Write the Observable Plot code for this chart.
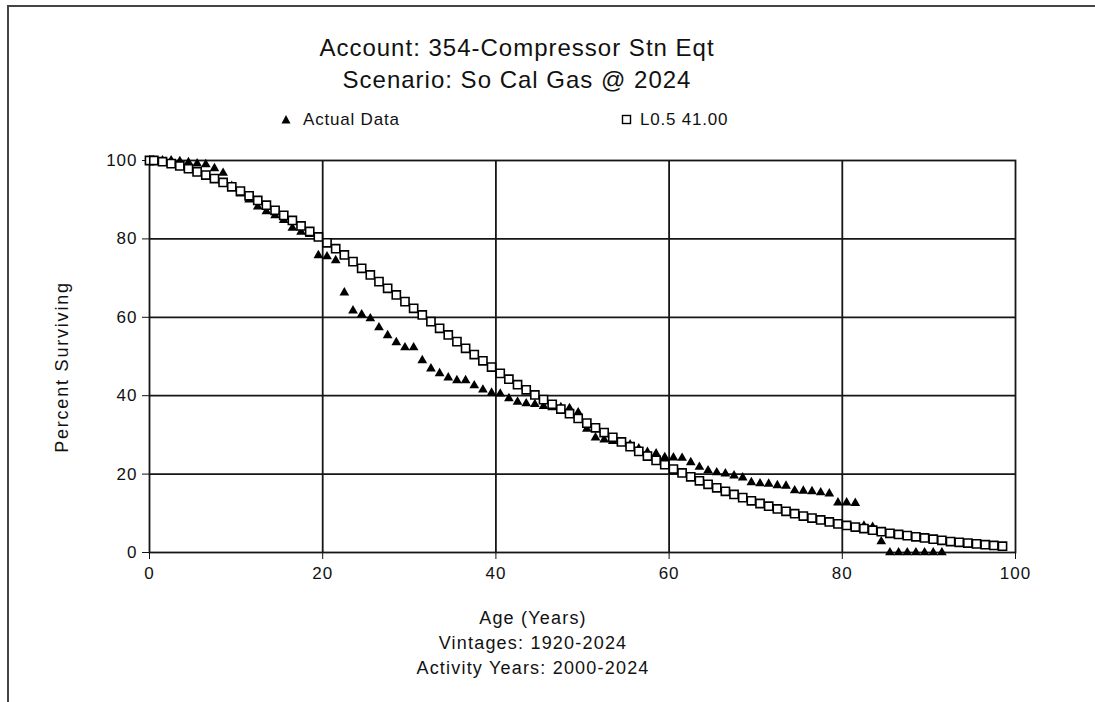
<!DOCTYPE html>
<html>
<head>
<meta charset="utf-8">
<script src="https://cdn.jsdelivr.net/npm/d3@7"></script>
<script src="https://cdn.jsdelivr.net/npm/@observablehq/plot@0.6"></script>
<style>
  html, body { margin: 0; padding: 0; background: #fff; }
  #page {
    position: relative; width: 1095px; height: 702px; overflow: hidden;
    font-family: "Liberation Sans", Arial, sans-serif; color: #111;
  }
  #border {
    position: absolute; left: 7px; top: 5px; right: -10px; bottom: -10px;
    border-top: 2px solid #444; border-left: 2px solid #444;
  }
  .txt { position: absolute; white-space: nowrap; transform: translateX(-50%); }
  .title { font-size: 24px; line-height: 24px; letter-spacing: 1px; }
  .lab { font-size: 18px; line-height: 18px; letter-spacing: 1.2px; }
  #ytitle {
    position: absolute; left: 62px; top: 367px; white-space: nowrap;
    font-size: 18px; line-height: 18px; letter-spacing: 1.8px;
    transform: translate(-50%, -50%) rotate(-90deg);
  }
  .legend { position: absolute; font-size: 17px; line-height: 17px; letter-spacing: 0.8px; white-space: nowrap; }
  .legend svg { position: absolute; left: 0; top: 0; }
  #chart { position: absolute; left: 0; top: 0; }
  #chart svg text { letter-spacing: 1px; }
</style>
</head>
<body>
<div id="page">
  <div id="border"></div>
  <div class="txt title" style="left:517px; top:36px;">Account: 354-Compressor Stn Eqt</div>
  <div class="txt title" style="left:517px; top:68px;">Scenario: So Cal Gas @ 2024</div>

  <div class="legend" style="left:280px; top:111px;">
    <svg width="14" height="17"><path d="M6,4 L10.5,12.5 L1.5,12.5 Z" fill="#000"/></svg>
    <span style="margin-left:23px;">Actual Data</span>
  </div>
  <div class="legend" style="left:620px; top:111px;">
    <svg width="14" height="17"><rect x="2.5" y="4.5" width="8" height="8" fill="#fff" stroke="#000" stroke-width="1.4"/></svg>
    <span style="margin-left:20px;">L0.5 41.00</span>
  </div>

  <div id="ytitle">Percent Surviving</div>

  <div id="chart"></div>

  <div class="txt lab" style="left:533px; top:609px;">Age (Years)</div>
  <div class="txt lab" style="left:533px; top:634px;">Vintages: 1920-2024</div>
  <div class="txt lab" style="left:533px; top:659px;">Activity Years: 2000-2024</div>
</div>

<script>
// Age points (years); observed and fitted series share this grid.
const ages = [
  0, 0.5, 1.5, 2.5, 3.5, 4.5, 5.5, 6.5, 7.5, 8.5,
  9.5, 10.5, 11.5, 12.5, 13.5, 14.5, 15.5, 16.5, 17.5, 18.5,
  19.5, 20.5, 21.5, 22.5, 23.5, 24.5, 25.5, 26.5, 27.5, 28.5,
  29.5, 30.5, 31.5, 32.5, 33.5, 34.5, 35.5, 36.5, 37.5, 38.5,
  39.5, 40.5, 41.5, 42.5, 43.5, 44.5, 45.5, 46.5, 47.5, 48.5,
  49.5, 50.5, 51.5, 52.5, 53.5, 54.5, 55.5, 56.5, 57.5, 58.5,
  59.5, 60.5, 61.5, 62.5, 63.5, 64.5, 65.5, 66.5, 67.5, 68.5,
  69.5, 70.5, 71.5, 72.5, 73.5, 74.5, 75.5, 76.5, 77.5, 78.5,
  79.5, 80.5, 81.5, 82.5, 83.5, 84.5, 85.5, 86.5, 87.5, 88.5,
  89.5, 90.5, 91.5, 92.5, 93.5, 94.5, 95.5, 96.5, 97.5, 98.5
];

// Observed percent surviving (Actual Data), ages 0 through 91.5
const actualPct = [
  100, 100, 100, 100, 99.8, 99.5, 99.2, 99.0, 98.0, 96.8,
  93.5, 91.5, 90.0, 88.2, 87.0, 86.0, 84.8, 82.8, 81.8, 81.2,
  75.8, 75.5, 74.5, 66.3, 61.7, 60.7, 59.7, 57.4, 55.4, 53.6,
  52.3, 52.3, 49.0, 46.9, 45.7, 44.6, 43.9, 43.9, 42.6, 41.5,
  40.7, 40.5, 39.3, 38.4, 38.0, 37.8, 37.3, 37.0, 37.0, 36.8,
  35.7, 31.5, 29.3, 28.8, 28.4, 28.0, 27.5, 26.5, 25.6, 25.2,
  24.3, 24.2, 24.1, 23.0, 21.8, 20.9, 20.4, 20.1, 19.6, 19.1,
  17.9, 17.6, 17.5, 17.1, 17.0, 15.8, 15.7, 15.6, 15.3, 15.0,
  12.7, 12.7, 12.6, 6.8, 6.5, 2.8, 0, 0, 0, 0,
  0, 0, 0
];

// Fitted L0.5 curve, 41.00-year average life
const curvePct = [
  100, 100, 99.7, 99.2, 98.6, 97.9, 97.1, 96.3, 95.4, 94.4,
  93.3, 92.2, 91.0, 89.8, 88.6, 87.3, 86.0, 84.7, 83.3, 81.9,
  80.5, 79.0, 77.5, 75.9, 74.2, 72.5, 70.8, 69.1, 67.4, 65.7,
  64.0, 62.3, 60.6, 58.9, 57.2, 55.5, 53.8, 52.1, 50.5, 48.9,
  47.3, 45.7, 44.2, 42.8, 41.5, 40.2, 39.0, 37.8, 36.6, 35.4,
  34.2, 33.0, 31.8, 30.6, 29.4, 28.2, 27.0, 25.8, 24.6, 23.5,
  22.4, 21.3, 20.3, 19.3, 18.3, 17.4, 16.5, 15.6, 14.8, 14.0,
  13.2, 12.5, 11.8, 11.1, 10.5, 9.9, 9.3, 8.8, 8.3, 7.8,
  7.3, 6.9, 6.5, 6.1, 5.7, 5.3, 4.9, 4.6, 4.3, 4.0,
  3.7, 3.4, 3.1, 2.8, 2.6, 2.4, 2.2, 2.0, 1.8, 1.6
];

// Interior grid lines
const gridAges = [20, 40, 60, 80];
const gridPcts = [20, 40, 60, 80];

const actual = actualPct.map((p, i) => ({age: ages[i], pct: p}));
const curve = curvePct.map((p, i) => ({age: ages[i], pct: p}));

const ink = "#161616";

const chart = Plot.plot({
  width: 1095,
  height: 702,
  marginLeft: 149,
  marginRight: 80,
  marginTop: 160,
  marginBottom: 150,
  style: {
    fontFamily: "'Liberation Sans', Arial, sans-serif",
    fontSize: "17px",
    color: "#111",
    background: "transparent",
    overflow: "visible"
  },
  x: {domain: [0, 100], ticks: 5, tickSize: 7, tickPadding: 7, label: null},
  y: {domain: [0, 100], ticks: 5, tickSize: 7, tickPadding: 5, label: null},
  marks: [
    Plot.ruleX(gridAges, {stroke: ink, strokeWidth: 1.8}),
    Plot.ruleY(gridPcts, {stroke: ink, strokeWidth: 1.8}),
    Plot.frame({stroke: ink, strokeWidth: 1.8}),
    Plot.dot(actual, {x: "age", y: "pct", symbol: "triangle", r: 3.6, fill: "#000"}),
    Plot.dot(curve, {x: "age", y: "pct", symbol: "square", r: 4.6, fill: "#fff", stroke: "#000", strokeWidth: 1.6})
  ]
});

document.getElementById("chart").appendChild(chart);
</script>
</body>
</html>
